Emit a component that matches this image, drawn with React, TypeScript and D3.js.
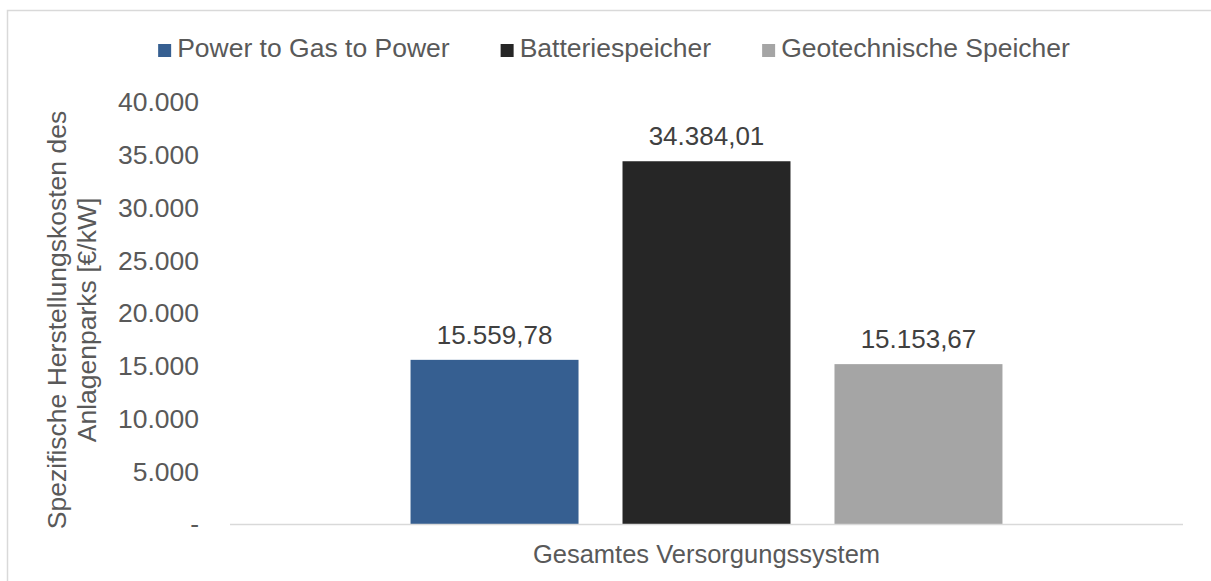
import React, { useEffect, useRef } from "react";
import * as d3 from "d3";

const categories = ["Gesamtes Versorgungssystem"];
const seriesNames = ["Power to Gas to Power", "Batteriespeicher", "Geotechnische Speicher"];
const seriesValues = [15559.78, 34384.01, 15153.67];
const seriesColors = ["#365F91", "#262626", "#A5A5A5"];
const yTicks = [0, 5000, 10000, 15000, 20000, 25000, 30000, 35000, 40000];
const yTitleLines = ["Spezifische Herstellungskosten des", "Anlagenparks [€/kW]"];

const W = 1211;
const H = 581;
const FONT = "'Liberation Sans', Arial, sans-serif";
const FS = 26.5;

const de = d3.formatLocale({ decimal: ",", thousands: ".", grouping: [3], currency: ["", " €"] });
const fmtTick = (v: number) => (v === 0 ? "-" : de.format(",.0f")(v));
const fmtLabel = de.format(",.2f");

export default function App() {
  const ref = useRef<SVGSVGElement>(null);

  useEffect(() => {
    const svg = d3.select(ref.current);
    svg.selectAll("*").remove();

    svg.append("rect").attr("width", W).attr("height", H).attr("fill", "#fff");
    svg.append("rect")
      .attr("x", 7.5).attr("y", 10.5).attr("width", 1218).attr("height", 600)
      .attr("fill", "none").attr("stroke", "#d9d9d9").attr("stroke-width", 1.5);

    const y = d3.scaleLinear().domain([0, 40000]).range([524, 102]);
    const x0 = d3.scaleBand().domain(categories).range([230, 1183]).paddingInner(0).paddingOuter(0.305);
    const x1 = d3.scaleBand().domain(seriesNames).range([0, x0.bandwidth()]).paddingInner(0.2075).paddingOuter(0);

    // y tick labels
    svg.append("g").selectAll("text").data(yTicks).join("text")
      .attr("x", 199).attr("y", (d) => y(d)).attr("dy", "0.35em")
      .attr("text-anchor", "end").attr("font-family", FONT).attr("font-size", FS)
      .attr("fill", "#595959").text((d) => fmtTick(d));

    // bars
    const g = svg.append("g");
    categories.forEach((cat) => {
      const gx = x0(cat) as number;
      g.selectAll(null).data(seriesValues).join("rect")
        .attr("x", (_d, i) => gx + (x1(seriesNames[i]) as number))
        .attr("y", (d) => y(d))
        .attr("width", x1.bandwidth())
        .attr("height", (d) => y(0) - y(d))
        .attr("fill", (_d, i) => seriesColors[i]);
      g.selectAll(null).data(seriesValues).join("text")
        .attr("x", (_d, i) => gx + (x1(seriesNames[i]) as number) + x1.bandwidth() / 2)
        .attr("y", (d) => y(d) - 16)
        .attr("text-anchor", "middle").attr("font-family", FONT).attr("font-size", 26)
        .attr("fill", "#404040").text((d) => fmtLabel(d));
    });

    // axis line
    svg.append("line").attr("x1", 230).attr("x2", 1183).attr("y1", y(0) + 0.5).attr("y2", y(0) + 0.5)
      .attr("stroke", "#d9d9d9").attr("stroke-width", 1.5);

    // x category label
    svg.selectAll(null).data(categories).join("text")
      .attr("x", (d) => (x0(d) as number) + x0.bandwidth() / 2).attr("y", 563)
      .attr("text-anchor", "middle").attr("font-family", FONT).attr("font-size", 25.5)
      .attr("fill", "#595959").text((d) => d);

    // y title
    svg.selectAll(null).data(yTitleLines).join("text")
      .attr("transform", (_d, i) => `translate(${66 + i * 30},320) rotate(-90)`)
      .attr("text-anchor", "middle").attr("font-family", FONT).attr("font-size", FS)
      .attr("fill", "#595959").text((d) => d);

    // legend
    const lg = svg.append("g");
    const items = seriesNames.map((name, i) => {
      const t = lg.append("text").attr("font-family", FONT).attr("font-size", FS)
        .attr("fill", "#595959").attr("y", 57).text(name);
      const w = (t.node() as SVGTextElement).getComputedTextLength();
      return { t, w, i };
    });
    const sq = 13, gapT = 6, gapItem = 51;
    const total = d3.sum(items, (d) => sq + gapT + d.w) + gapItem * (items.length - 1);
    let cx = 614 - total / 2;
    items.forEach((it) => {
      lg.append("rect").attr("x", cx).attr("y", 44).attr("width", sq).attr("height", sq)
        .attr("fill", seriesColors[it.i]);
      it.t.attr("x", cx + sq + gapT);
      cx += sq + gapT + it.w + gapItem;
    });
  }, []);

  return (
    <svg ref={ref} width={W} height={H}
      style={{ position: "absolute", left: 0, top: 0, display: "block" }} />
  );
}
